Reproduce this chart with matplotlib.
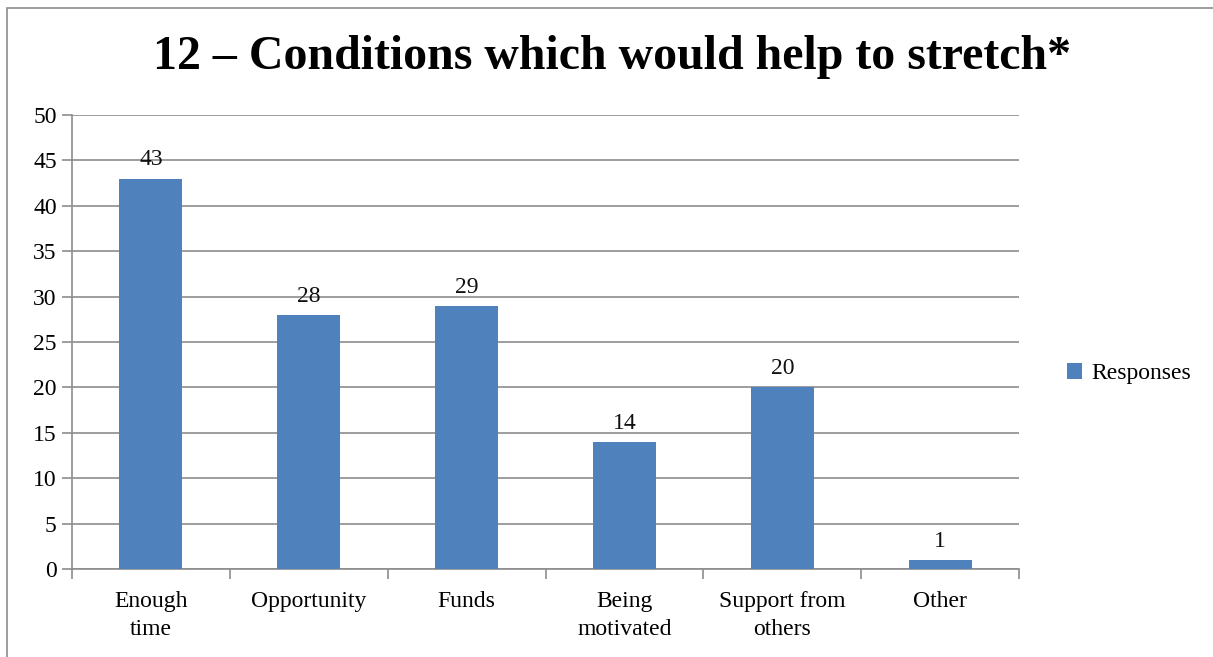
import matplotlib
matplotlib.use("Agg")
import matplotlib.pyplot as plt
from matplotlib.patches import Rectangle

categories = ["Enough\ntime", "Opportunity", "Funds", "Being\nmotivated", "Support from\nothers", "Other"]
responses = [43, 28, 29, 14, 20, 1]
y_ticks = [0, 5, 10, 15, 20, 25, 30, 35, 40, 45, 50]

plt.rcParams['font.family'] = ['Liberation Serif', 'DejaVu Serif']

bar_color = '#4f81bd'
grid_color = '#8c8c8c'

fig = plt.figure(figsize=(12.13, 6.57), dpi=100)
W, H = 1213, 657

# outer chart frame
fig.patches.append(Rectangle((7 / W, -0.01), 1.01 - 7 / W, 1 - 8 / H + 0.01,
                             transform=fig.transFigure, fill=False,
                             edgecolor='#8c8c8c', linewidth=1.2))

ax = fig.add_axes([72 / W, 1 - 569 / H, (1019 - 72) / W, (569 - 115) / H])

x = range(len(categories))
bars = ax.bar(x, responses, width=0.4, color=bar_color, label='Responses', zorder=3)

for xi, v in zip(x, responses):
    ax.text(xi, v + 0.9, str(v), ha='center', va='bottom', fontsize=17, color='#111111')

ax.set_xlim(-0.5, len(categories) - 0.5)
ax.set_ylim(0, 50)
ax.set_yticks(y_ticks)
ax.set_yticklabels([str(t) for t in y_ticks], fontsize=17)
ax.yaxis.grid(True, color=grid_color, linewidth=1.2, zorder=0)

# category ticks sit between the bars
ax.set_xticks([i - 0.5 for i in range(len(categories) + 1)])
ax.set_xticklabels([])
ax.set_xticks(list(x), minor=True)
ax.set_xticklabels(categories, minor=True, fontsize=17, linespacing=1.45)
ax.tick_params(axis='x', which='minor', length=0, pad=16)
ax.tick_params(axis='x', which='major', length=7, color=grid_color, width=1.2)
ax.tick_params(axis='y', length=7, color=grid_color, width=1.2, pad=4)

for side in ['top', 'right']:
    ax.spines[side].set_visible(False)
for side in ['left', 'bottom']:
    ax.spines[side].set_color(grid_color)
    ax.spines[side].set_linewidth(1.2)

fig.text(612 / W, 1 - 57 / H, '12 – Conditions which would help to stretch*',
         ha='center', va='center', fontsize=34.5, fontweight='bold')

ax.legend(loc='center left', bbox_to_anchor=(1.028, 0.43), frameon=False,
          fontsize=17, handlelength=0.65, handleheight=0.65, handletextpad=0.4)

fig.savefig('out.png', dpi=100)
